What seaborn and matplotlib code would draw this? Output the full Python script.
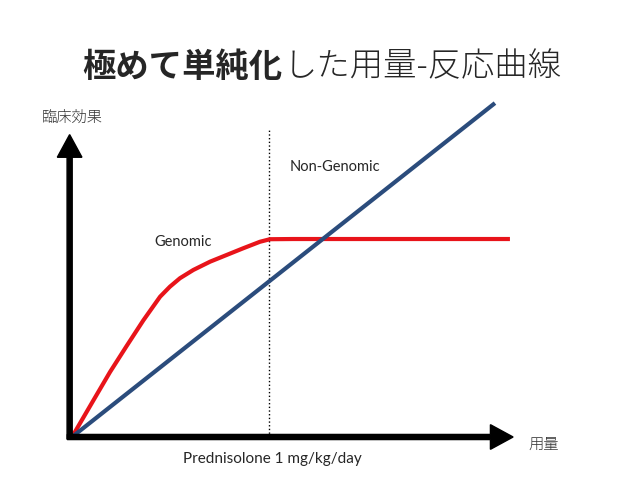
import pandas as pd
import matplotlib.pyplot as plt
import seaborn as sns

# Dose in units of "Prednisolone 1 mg/kg/day", effect relative to genomic plateau
genomic_dose = [0.0, 0.108, 0.193, 0.278, 0.362, 0.447, 0.497, 0.548, 0.616,
                0.701, 0.785, 0.869, 0.954, 1.005, 1.123, 2.223]
genomic_effect = [0.0, 0.185, 0.330, 0.463, 0.592, 0.712, 0.763, 0.806, 0.848,
                  0.890, 0.924, 0.958, 0.991, 1.004, 1.005, 1.005]
nongenomic_dose = [0.0, 2.147]
nongenomic_effect = [0.0, 1.695]
threshold_dose = 1.0

title_bold = "極めて単純化"
title_rest = "した用量-反応曲線"
y_label = "臨床効果"
x_label = "用量"
threshold_label = "Prednisolone 1 mg/kg/day"
genomic_label = "Genomic"
nongenomic_label = "Non-Genomic"

sns.set_theme(style="white")
plt.rcParams["font.family"] = ["Lato", "Noto Sans CJK JP", "DejaVu Sans"]

fig = plt.figure(figsize=(6.38, 4.79), dpi=100)
ax = fig.add_axes([0, 0, 1, 1])
ax.set_xlim(-72 / 197, 566 / 197)
ax.set_ylim(-42 / 197, 437 / 197)
ax.axis("off")

df = pd.concat([
    pd.DataFrame({"dose": genomic_dose, "effect": genomic_effect, "kind": "genomic"}),
    pd.DataFrame({"dose": nongenomic_dose, "effect": nongenomic_effect, "kind": "nongenomic"}),
])
sns.lineplot(data=df, x="dose", y="effect", hue="kind", sort=False,
             palette={"genomic": "#e8141a", "nongenomic": "#2b4c7c"},
             linewidth=3, legend=False, ax=ax, zorder=3,
             solid_joinstyle="round", solid_capstyle="butt")

# threshold line
ax.plot([threshold_dose, threshold_dose], [0, 1.569], color="black",
        linestyle=":", linewidth=1, zorder=2)

# axes with arrow heads
arrow_kw = dict(width=0.026, head_width=0.125, head_length=0.115,
                length_includes_head=True, color="black", zorder=4)
ax.arrow(-0.012, -0.01, 0, 1.545, **arrow_kw)
ax.arrow(-0.024, 0, 2.263, 0, **arrow_kw)

cjk = ["Noto Sans CJK JP", "DejaVu Sans"]
ax.text(0.0, 1.619, y_label, ha="center", va="center", fontsize=11,
        color="#333333", family=cjk, fontweight="light")
ax.text(2.396, -0.041, x_label, ha="center", va="center", fontsize=11,
        color="#333333", family=cjk, fontweight="light")
ax.text(1.015, -0.112, threshold_label, ha="center", va="center", fontsize=11)
ax.text(0.563, 0.99, genomic_label, ha="center", va="center", fontsize=10.5)
ax.text(1.335, 1.371, nongenomic_label, ha="center", va="center", fontsize=10.5)

t1 = ax.text(82 / 638, 1 - 68 / 479, title_bold, transform=ax.transAxes,
             ha="left", va="center", fontsize=24, fontweight="bold", family=cjk)
ax.annotate(title_rest, xy=(1, 0), xycoords=t1, xytext=(1, 0),
            textcoords="offset points", ha="left", va="bottom",
            fontsize=24, fontweight="light", family=cjk)

fig.savefig("out.png", dpi=100)
